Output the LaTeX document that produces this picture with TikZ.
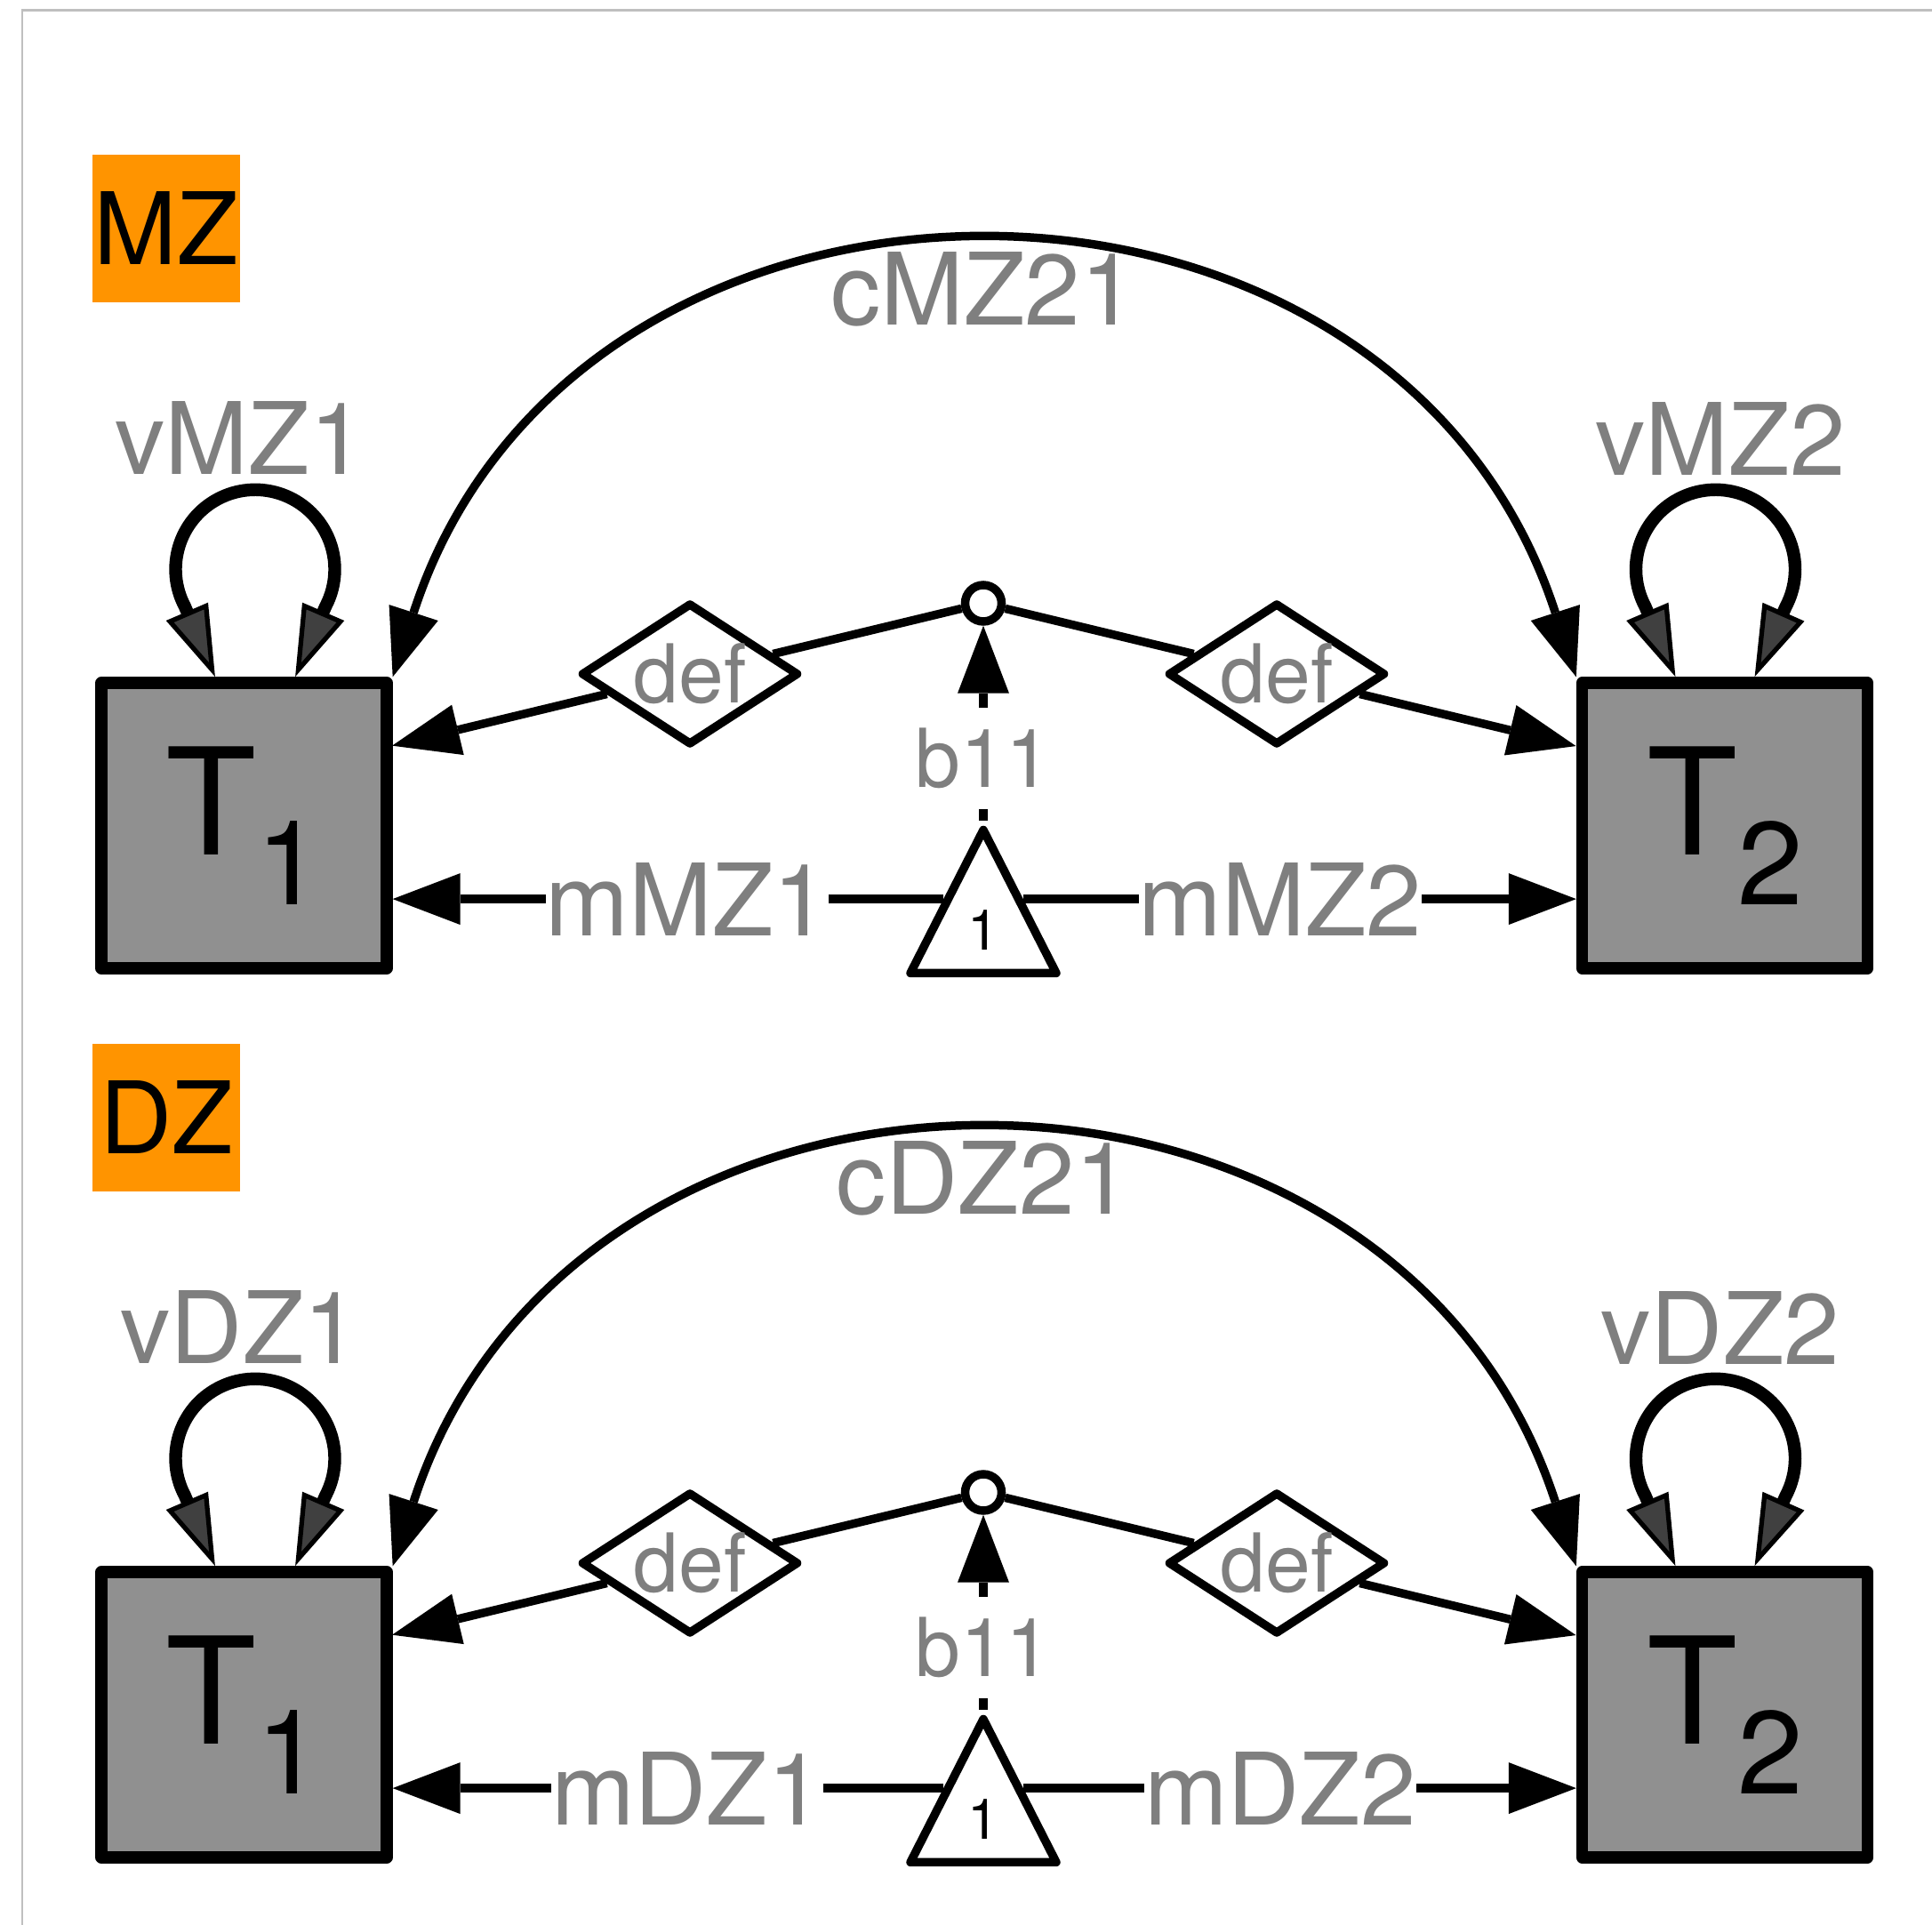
\documentclass[tikz,border=0pt]{standalone}
\usepackage{fontspec}
\setmainfont{TeX Gyre Heros}
\usepackage{tikz}
\usetikzlibrary{arrows.meta,calc,shapes.geometric}
\definecolor{TagOrange}{HTML}{FF9400}
\definecolor{LabGray}{HTML}{7F7F7F}
\definecolor{BoxGray}{HTML}{909090}
\definecolor{TipGray}{HTML}{404040}
\definecolor{Frame}{HTML}{BFBFBF}
\newcommand{\Tsub}[1]{T\raisebox{-0.56cm}{\fontsize{37.7}{40}\selectfont #1}}
\newcommand{\lblfont}{\fontsize{32}{34}\selectfont}

\begin{document}
\begin{tikzpicture}[
  x=1cm, y=1cm,
  >={Triangle[length=7.6mm,width=5.8mm,line width=0pt]},
  tag/.style={fill=TagOrange,minimum size=1.66cm,inner sep=0pt,font=\lblfont},
  var/.style={draw,line width=3.8pt,line join=round,fill=BoxGray,
              minimum size=3.21cm,inner sep=0pt,font=\fontsize{47.5}{50}\selectfont},
  dia/.style={diamond,draw,line width=2.7pt,line join=round,aspect=1.5,
              minimum width=2.45cm,minimum height=1.60cm,inner sep=0pt,
              text=LabGray,font=\fontsize{26}{28}\selectfont},
  knot/.style={circle,draw,line width=2.7pt,minimum size=0.41cm,inner sep=0pt},
  const/.style={isosceles triangle,isosceles triangle apex angle=54,
                isosceles triangle stretches,shape border rotate=90,draw,
                line width=2.7pt,line join=round,minimum width=1.64cm,
                minimum height=1.61cm,inner sep=0pt,font=\fontsize{18}{20}\selectfont},
  lbl/.style={text=LabGray,font=\lblfont,inner sep=0pt},
  onl/.style={lbl,fill=white},
  ln/.style={line width=2.7pt},
  arr/.style={ln,->},
  self/.style={line width=4.1pt,
               >={Triangle[length=8mm,width=5mm,fill=TipGray,line width=1.5pt]},<->}]

\useasboundingbox (0,0) rectangle (21.73,21.64);
\draw[Frame,line width=0.6pt] (0.254,-1) rectangle (23,21.525);

\foreach \pn/\oy in {MZ/0,DZ/-10} {
\begin{scope}[yshift=\oy cm]
  \node[tag] (tag\pn) at (1.87,19.07) {\pn};
  \node[var] (T1\pn) at (2.745,12.355) {\Tsub{1}};
  \node[var] (T2\pn) at (19.40,12.355) {\Tsub{2}};
  \node[knot] (knot\pn) at (11.06,14.855) {};
  \node[dia] (dL\pn) at (7.76,14.06) {def};
  \node[dia] (dR\pn) at (14.36,14.06) {def};
  \node[const,anchor=apex] (tri\pn) at (11.06,12.41) {1};

  % variances
  \draw[self] ($(T1\pn.north)+(-0.325,0)$) -- ++(-0.34,0.79)
    arc[start angle=208,end angle=-28,radius=0.895] -- ($(T1\pn.north)+(0.575,0)$);
  \draw[self] ($(T2\pn.north)+(-0.555,0)$) -- ++(-0.34,0.79)
    arc[start angle=208,end angle=-28,radius=0.895] -- ($(T2\pn.north)+(0.335,0)$);
  \node[lbl] (v1\pn) at (2.70,16.71) {v\pn1};
  \node[lbl] (v2\pn) at (19.35,16.70) {v\pn2};

  % covariance
  \draw[ln,<->] (T1\pn.north east) .. controls +(72:6.70) and +(108:6.70) .. (T2\pn.north west);
  \node[lbl] (c\pn) at (11.06,18.39) {c\pn21};

  % definition paths
  \draw[ln] (knot\pn) -- (dL\pn);
  \draw[arr] (dL\pn) -- ($(knot\pn)!2.015!(dL\pn)$);
  \draw[ln] (knot\pn) -- (dR\pn);
  \draw[arr] (dR\pn) -- ($(knot\pn)!2.02!(dR\pn)$);
  \draw[arr] (tri\pn.apex) -- node[onl,pos=0.32,inner ysep=6.5pt,
    font=\fontsize{26}{28}\selectfont] {b11} (knot\pn);

  % means
  \coordinate (tL\pn) at ($(tri\pn.apex)!0.5!(tri\pn.left corner)$);
  \coordinate (tR\pn) at ($(tri\pn.apex)!0.5!(tri\pn.right corner)$);
  \draw[arr] (tL\pn) -- node[onl,pos=0.465] {m\pn1} (tL\pn -| T1\pn.east);
  \draw[arr] (tR\pn) -- node[onl,pos=0.465] {m\pn2} (tR\pn -| T2\pn.west);
\end{scope}
}
\end{tikzpicture}
\end{document}
